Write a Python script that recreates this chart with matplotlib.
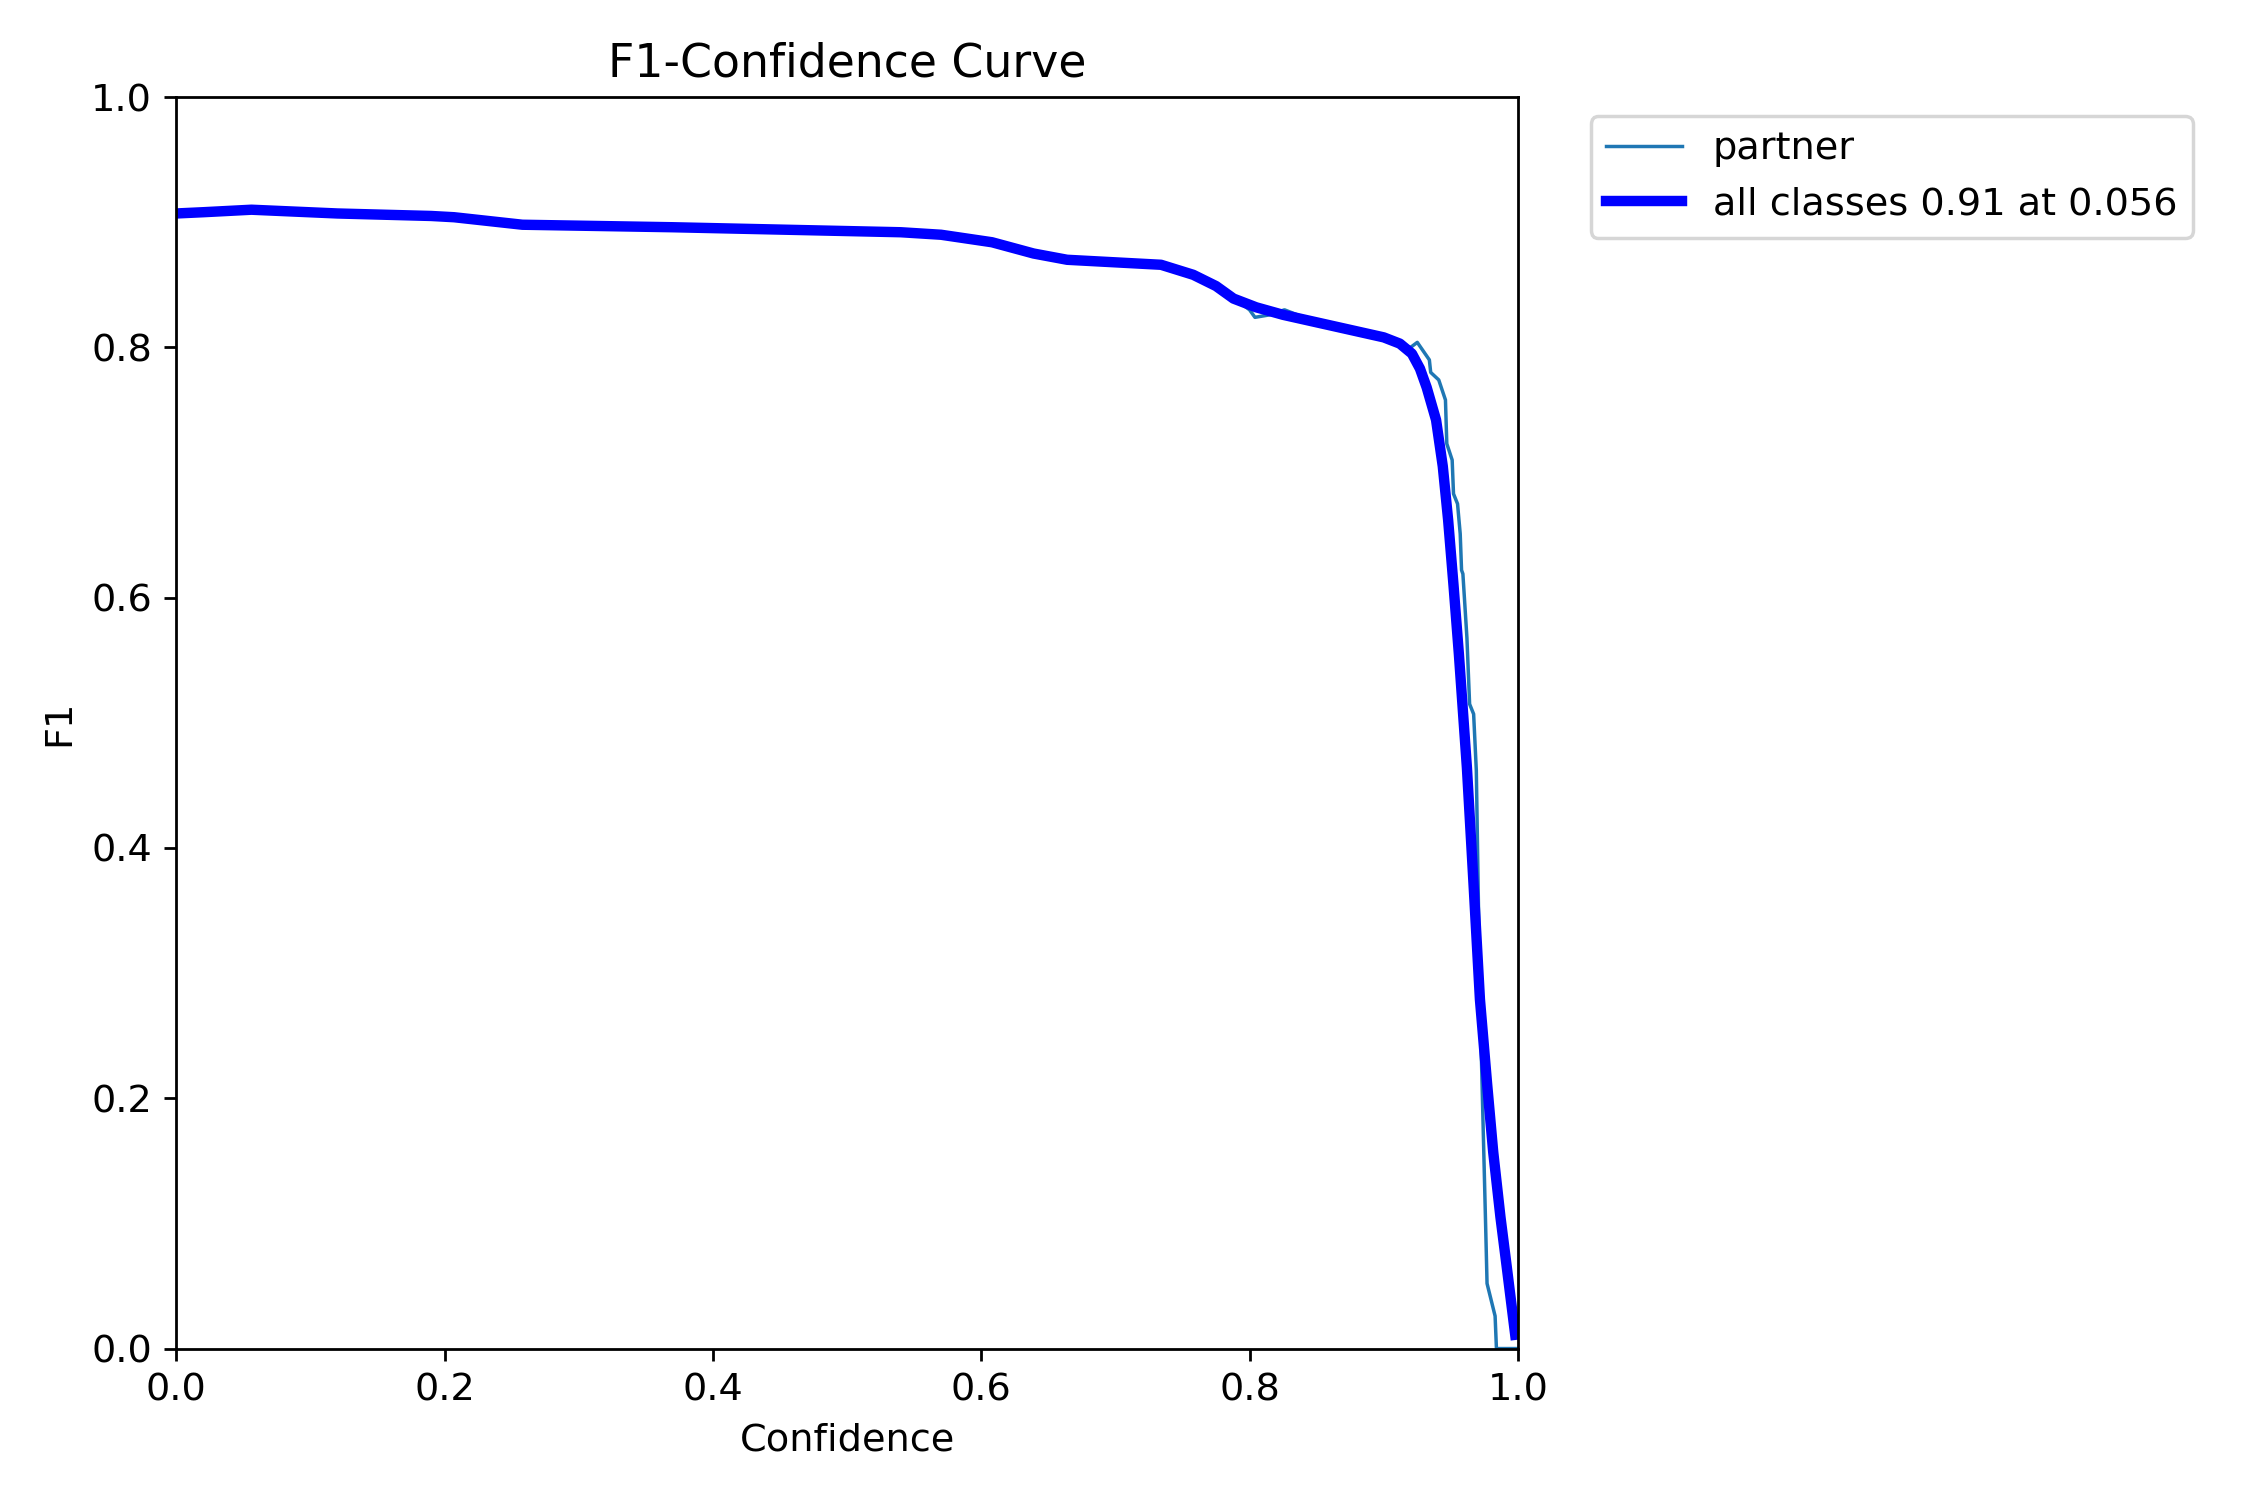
import matplotlib
matplotlib.use("Agg")
import matplotlib.pyplot as plt

# all classes (smoothed) curve
conf_all = [0.0, 0.02, 0.056, 0.12, 0.19, 0.207, 0.258, 0.37, 0.54, 0.57, 0.608, 0.639, 0.664, 0.734,
            0.758, 0.775, 0.788, 0.805, 0.825, 0.85, 0.9, 0.912, 0.921, 0.927, 0.932, 0.939, 0.944, 0.948,
            0.952, 0.956, 0.962, 0.967, 0.9717, 0.977, 0.9816, 0.987, 0.9916, 0.998]
f1_all = [0.907, 0.908, 0.910, 0.907, 0.905, 0.904, 0.898, 0.896, 0.892, 0.890, 0.884, 0.875, 0.870, 0.866,
          0.858, 0.849, 0.839, 0.832, 0.826, 0.820, 0.808, 0.803, 0.795, 0.783, 0.768, 0.742, 0.705, 0.662,
          0.610, 0.555, 0.464, 0.370, 0.279, 0.212, 0.157, 0.105, 0.066, 0.011]

# partner class curve
conf_partner = [0.0, 0.02, 0.056, 0.12, 0.19, 0.207, 0.258, 0.37, 0.54, 0.57, 0.608, 0.639, 0.664, 0.734,
                0.758, 0.775, 0.79, 0.80, 0.804, 0.815, 0.826, 0.85, 0.9, 0.915, 0.92, 0.925, 0.934, 0.935,
                0.941, 0.946, 0.947, 0.951, 0.952, 0.955, 0.957, 0.958, 0.959, 0.962, 0.964, 0.967, 0.969,
                0.9717, 0.976, 0.977, 0.983, 0.984, 1.0]
f1_partner = [0.907, 0.908, 0.910, 0.907, 0.905, 0.904, 0.898, 0.896, 0.892, 0.890, 0.884, 0.875, 0.870, 0.867,
              0.859, 0.849, 0.838, 0.830, 0.824, 0.826, 0.830, 0.820, 0.808, 0.801, 0.800, 0.804, 0.790, 0.780,
              0.774, 0.758, 0.723, 0.710, 0.683, 0.675, 0.651, 0.622, 0.619, 0.568, 0.515, 0.507, 0.462,
              0.279, 0.096, 0.052, 0.026, 0.0, 0.0]

class_names = ["partner"]
best_label = "all classes 0.91 at 0.056"

plt.rcParams["font.size"] = 11
fig, ax = plt.subplots(1, 1, figsize=(9, 6), tight_layout=True)
ax.plot(conf_partner, f1_partner, linewidth=1, label=class_names[0])
ax.plot(conf_all, f1_all, linewidth=3, color="blue", label=best_label)
ax.set_xlabel("Confidence")
ax.set_ylabel("F1")
ax.set_xlim(0, 1)
ax.set_ylim(0, 1)
ax.legend(bbox_to_anchor=(1.04, 1), loc="upper left")
ax.set_title("F1-Confidence Curve")
fig.savefig("out.png", dpi=250)
